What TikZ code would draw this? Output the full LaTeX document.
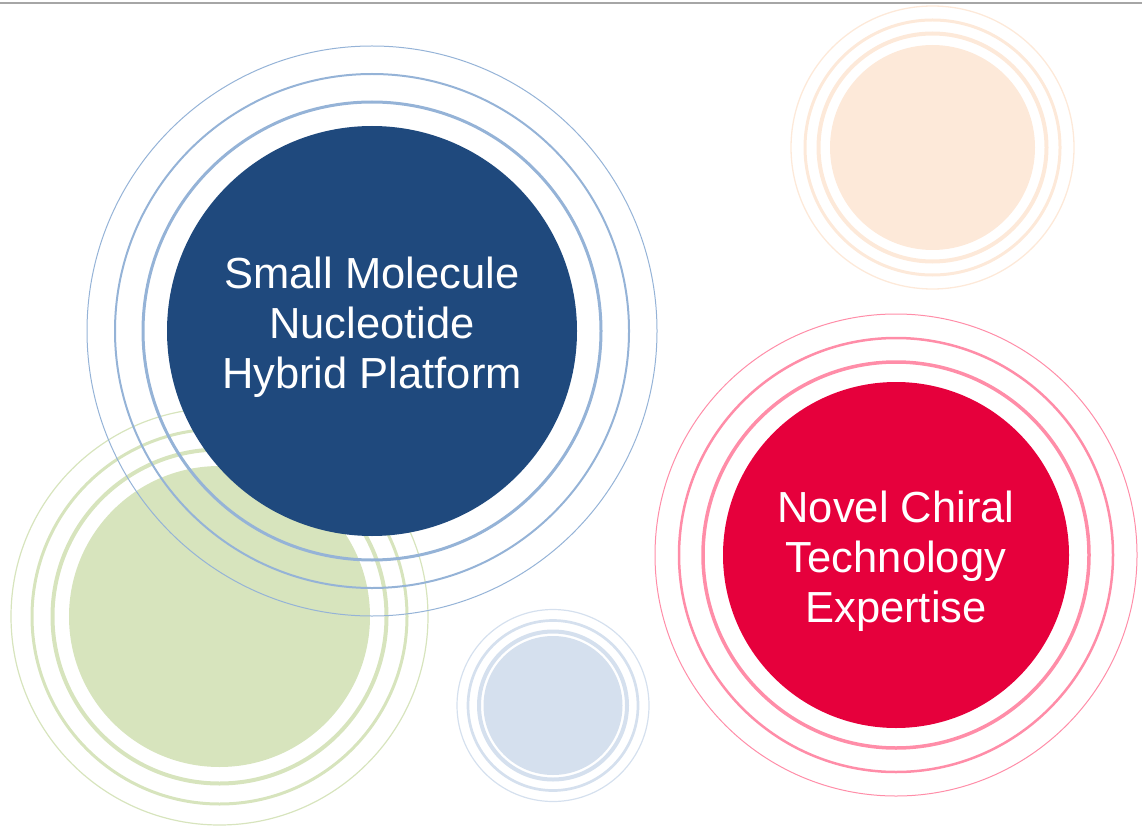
\documentclass[tikz,border=0pt]{standalone}
\usepackage{fontspec}
\setmainfont{Liberation Sans}
\usetikzlibrary{positioning}

\definecolor{navyfill}{HTML}{1F497D}
\definecolor{navyring}{HTML}{95B3D7}
\definecolor{redfill}{HTML}{E6003C}
\definecolor{redring}{HTML}{FF8DA8}
\definecolor{peachfill}{HTML}{FDE9D9}
\definecolor{greenfill}{HTML}{D7E4BD}
\definecolor{paleblue}{HTML}{D5E0EE}

\tikzset{
  disc/.style = {circle, inner sep = 0pt},
  caption/.style = {text = white, align = center,
                    font = \fontsize{43.5}{50}\selectfont},
}

\begin{document}
\begin{tikzpicture}[x=1pt, y=-1pt]
  \useasboundingbox (0,0) rectangle (1142,826);

        %top rule
        \coordinate (ruleL) at (0,3.5);
        \coordinate (ruleR) at (1142,3.5);
        \draw[black!35, line width = 2pt] (ruleL) -- (ruleR);

        %peach
        \node[disc, fill = peachfill, minimum size = 205pt] (peach) at (932.5,147.5) {};
        \draw[peachfill, line width = 4pt] (peach.center) circle[radius = 114];
        \draw[peachfill, line width = 3pt] (peach.center) circle[radius = 127.5];
        \draw[peachfill, line width = 1.3pt] (peach.center) circle[radius = 141.5];

        %green
        \node[disc, fill = greenfill, minimum size = 301pt] (green) at (219.5,616.5) {};
        \draw[greenfill, line width = 4pt] (green.center) circle[radius = 167];
        \draw[greenfill, line width = 3pt] (green.center) circle[radius = 187.5];
        \draw[greenfill, line width = 1.2pt] (green.center) circle[radius = 208.5];

        %small blue
        \node[disc, fill = paleblue, minimum size = 139pt] (pale) at (553,705.5) {};
        \draw[paleblue, line width = 4pt] (pale.center) circle[radius = 74];
        \draw[paleblue, line width = 2.7pt] (pale.center) circle[radius = 85];
        \draw[paleblue, line width = 1.2pt] (pale.center) circle[radius = 96];

        %platform
        \node[disc, fill = navyfill, minimum size = 410pt] (platform) at (372,331) {};
        \node[caption, yshift = 4pt] (platformtext) at (platform.center)
          {Small Molecule\\Nucleotide\\Hybrid Platform};
        \draw[navyring, line width = 3pt] (platform.center) circle[radius = 229];
        \draw[navyring, line width = 2pt] (platform.center) circle[radius = 257];
        \draw[navyring, line width = 1pt] (platform.center) circle[radius = 285];

        %chiral
        \node[disc, fill = redfill, minimum size = 346pt] (chiral) at (896,555) {};
        \node[caption, yshift = -6pt] (chiraltext) at (chiral.center)
          {Novel Chiral\\Technology\\Expertise};
        \draw[redring, line width = 3.5pt] (chiral.center) circle[radius = 193];
        \draw[redring, line width = 2.5pt] (chiral.center) circle[radius = 217];
        \draw[redring, line width = 1pt] (chiral.center) circle[radius = 241];

\end{tikzpicture}
\end{document}
